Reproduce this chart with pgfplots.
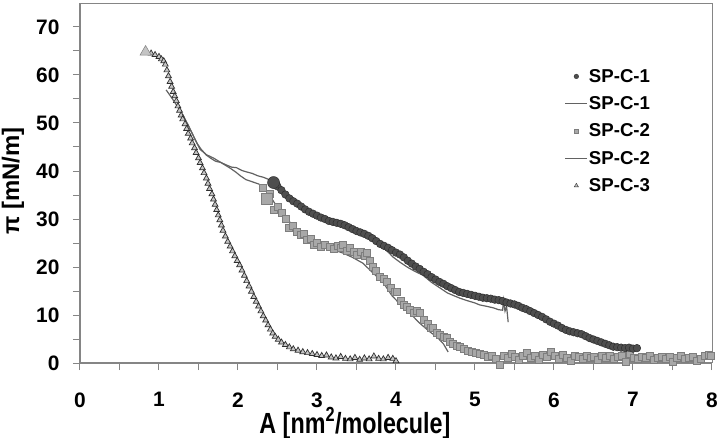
\documentclass[border=0pt]{standalone}
\usepackage{pgfplots}
\pgfplotsset{compat=1.18}
\usepackage{fontspec}
\setmainfont{Liberation Sans}
\definecolor{cfill}{HTML}{4E4E4E}
\definecolor{cedge}{HTML}{2E2E2E}
\definecolor{sfill}{HTML}{A8A8A8}
\definecolor{sedge}{HTML}{7E7E7E}
\definecolor{tfill}{HTML}{C4C4C4}
\definecolor{tedge}{HTML}{2E2E2E}
\definecolor{lcol}{HTML}{626262}
\definecolor{axcol}{HTML}{858585}
\begin{document}
\begin{tikzpicture}
\begin{axis}[
  scale only axis, width=632bp, height=360bp,
  xmin=0, xmax=8, ymin=0, ymax=75,
  axis lines=left,
  axis line style={-, axcol, line width=1.4bp},
  xtick={0,1,...,8}, ytick={0,10,...,70},
  minor x tick num=1, minor y tick num=1,
  tick align=outside, major tick length=7bp, minor tick length=7bp,
  tick style={axcol, line width=1bp},
  /pgf/number format/assume math mode=true,
  tick label style={font=\bfseries\fontsize{21}{22}\selectfont},
  xticklabel style={yshift=-19bp},
  yticklabel style={xshift=-10bp},
  xlabel={A [nm\textsuperscript{2}/molecule]},
  ylabel={π [mN/m]},
  xlabel style={font=\bfseries\fontsize{23.4}{25}\selectfont, at={(axis description cs:0.435,0)}, anchor=base, yshift=-70bp, yscale=1.25},
  ylabel style={font=\bfseries\fontsize{24}{26}\selectfont, at={(axis description cs:-0.106,0.506)}, anchor=center},
  clip=false,
  legend cell align=left,
  legend style={draw=none, fill=none, at={(rel axis cs:0.762,0.825)}, anchor=north west,
    font=\bfseries\fontsize{18.7}{20}\selectfont, row sep=10.8bp,
    nodes={inner sep=1bp}},
  legend image code/.code={\draw[mark repeat=2,mark phase=2,#1] plot coordinates {(0bp,0bp) (11bp,0bp) (22bp,0bp)};},
]
\draw[axcol, line width=0.8bp] (rel axis cs:0,1) -- (rel axis cs:1,1) -- (rel axis cs:1,0);
% SP-C-3 triangles
\addplot[forget plot, only marks, mark=triangle*, mark size=3.4bp, mark options={fill=tfill, draw=tedge, line width=0.7bp}] coordinates {
(0.90,64.5)(0.95,64.2)(1.00,63.8)(1.03,63.3)(1.06,62.9)(1.08,62.2)(1.10,61.0)(1.12,59.8)(1.14,58.6)(1.16,57.6)(1.18,56.5)(1.20,55.6)(1.22,54.6)(1.24,53.5)(1.26,52.6)(1.28,51.6)(1.30,50.8)(1.33,49.8)(1.35,48.8)(1.37,47.8)(1.40,46.8)(1.42,45.8)(1.45,44.8)(1.47,43.8)(1.50,42.7)(1.52,41.7)(1.55,40.6)(1.57,39.6)(1.60,38.5)(1.62,37.4)(1.64,36.3)(1.67,35.2)(1.69,34.1)(1.71,33.0)(1.73,31.9)(1.75,30.8)(1.77,29.8)(1.79,28.7)(1.81,27.6)(1.84,26.4)(1.87,25.3)(1.90,24.3)(1.93,23.3)(1.96,22.3)(1.99,21.3)(2.02,20.4)(2.05,19.3)(2.08,18.2)(2.11,17.1)(2.14,16.0)(2.17,14.9)(2.20,13.8)(2.23,12.8)(2.26,11.8)(2.29,10.8)(2.32,9.8)(2.35,8.9)(2.38,7.9)(2.41,7.0)(2.44,6.2)(2.47,5.5)(2.51,4.9)(2.55,4.3)(2.60,3.8)(2.65,3.3)(2.70,2.9)(2.76,2.6)(2.82,2.3)(2.88,2.1)(2.94,1.9)(3.00,1.7)(3.06,1.5)(3.12,1.6)(3.18,1.2)(3.24,1.0)(3.30,1.3)(3.36,0.9)(3.42,0.8)(3.48,1.1)(3.54,0.7)(3.60,1.0)(3.66,0.8)(3.72,1.4)(3.78,0.9)(3.84,0.8)(3.90,1.1)(3.96,0.9)(4.00,0.4)
};
\addplot[forget plot, only marks, mark=triangle*, mark size=6.5bp, mark options={fill=tfill, draw=tedge!60, line width=0.5bp}] coordinates {(0.83,64.8)};
% SP-C-1 line
\addplot[forget plot, lcol, line width=1.2bp] coordinates {
(1.09,56.9)(1.15,55.5)(1.20,54.3)(1.25,53.0)(1.31,51.3)(1.37,49.5)(1.43,47.5)(1.48,45.8)(1.53,44.6)(1.60,43.3)(1.66,42.6)(1.72,42.0)(1.78,41.8)(1.86,41.2)(1.92,40.8)(1.98,40.7)(2.05,40.1)(2.11,39.8)(2.18,39.5)(2.25,39.0)(2.32,38.7)(2.38,38.3)(2.45,37.6)(2.55,35.8)(2.65,34.2)(2.75,33.0)(2.85,31.8)(2.95,30.9)(3.05,30.1)(3.15,29.4)(3.25,28.9)(3.35,28.3)(3.45,27.6)(3.55,26.9)(3.65,26.1)(3.75,25.0)(3.85,23.9)(3.92,22.8)(3.96,22.1)(4.05,21.0)(4.15,19.9)(4.25,19.0)(4.34,18.3)(4.45,16.8)(4.56,15.6)(4.65,14.6)(4.75,13.9)(4.81,13.5)(4.90,13.0)(5.00,12.5)(5.06,12.1)(5.15,11.8)(5.23,11.5)(5.30,11.1)(5.35,11.0)(5.36,13.0)(5.38,10.8)(5.40,11.8)(5.42,8.5)
};
% SP-C-2 line
\addplot[forget plot, lcol, line width=1.2bp] coordinates {
(1.30,51.8)(1.38,49.2)(1.45,46.8)(1.52,44.5)(1.60,43.4)(1.69,42.7)(1.78,41.8)(1.90,40.6)(1.97,39.8)(2.03,39.0)(2.10,38.2)(2.19,37.7)(2.26,37.3)(2.32,36.8)(2.40,35.0)(2.46,33.4)(2.53,31.9)(2.60,30.3)(2.68,29.0)(2.75,27.7)(2.85,26.2)(2.95,25.0)(3.08,24.2)(3.20,23.6)(3.33,22.9)(3.45,22.0)(3.58,20.8)(3.70,18.9)(3.84,16.7)(3.95,14.0)(4.05,12.3)(4.18,10.3)(4.30,8.3)(4.42,6.6)(4.52,5.4)(4.60,4.0)(4.66,2.3)
};
% SP-C-2 squares
\addplot[forget plot, only marks, mark=square*, mark size=3.5bp, mark options={fill=sfill, draw=sedge, line width=0.6bp}] coordinates {
(2.32,36.4)(2.40,35.2)(2.45,31.9)(2.50,32.5)(2.56,31.2)(2.60,30.0)(2.64,28.1)(2.69,28.5)(2.74,27.3)(2.79,26.8)(2.83,27.0)(2.87,25.6)(2.92,25.9)(2.96,24.6)(3.00,25.0)(3.05,24.2)(3.10,24.6)(3.16,24.2)(3.21,23.7)(3.26,24.5)(3.30,23.9)(3.33,24.6)(3.38,23.4)(3.42,23.9)(3.46,23.1)(3.51,22.5)(3.56,23.2)(3.60,22.3)(3.63,22.9)(3.67,21.3)(3.71,20.0)(3.75,19.2)(3.80,18.0)(3.84,17.6)(3.88,16.9)(3.93,15.6)(3.98,14.8)(4.01,14.8)(4.06,13.0)(4.10,12.2)(4.14,11.7)(4.18,11.0)(4.22,10.4)(4.26,10.8)(4.30,10.4)(4.35,8.9)(4.40,8.2)(4.44,7.3)(4.47,7.3)(4.52,6.3)(4.56,5.8)(4.60,5.5)(4.64,5.2)(4.68,4.4)(4.72,4.0)(4.77,3.6)(4.81,3.4)(4.86,2.9)(4.91,2.6)(4.96,2.3)(5.01,2.2)(5.06,2.0)
(5.11,1.8)(5.16,1.2)(5.21,1.6)(5.26,0.9)(5.31,-0.3)(5.36,1.5)(5.41,1.0)(5.46,1.9)(5.51,1.3)(5.56,0.7)(5.61,1.6)(5.66,2.1)(5.71,1.0)(5.76,1.5)(5.81,0.6)(5.86,1.8)(5.91,1.2)(5.96,2.3)(6.01,1.4)(6.06,0.8)(6.11,1.7)(6.16,1.1)(6.21,0.5)(6.26,1.6)(6.31,1.2)(6.36,0.9)(6.41,1.5)(6.46,1.0)(6.51,1.3)(6.56,0.7)(6.61,1.4)(6.66,1.0)(6.71,1.6)(6.76,0.8)(6.81,1.2)(6.86,1.5)(6.91,0.3)(6.96,1.9)(7.01,1.1)(7.06,0.9)(7.11,1.3)(7.16,1.0)(7.21,1.5)(7.26,0.6)(7.31,1.1)(7.36,1.3)(7.41,0.8)(7.46,1.2)(7.51,0.2)(7.56,1.1)(7.61,1.4)(7.66,0.9)(7.71,1.0)(7.76,1.2)(7.81,0.4)(7.86,0.9)(7.91,1.6)(7.96,1.7)(7.99,1.6)
};
\addplot[forget plot, only marks, mark=square*, mark size=5.5bp, mark options={fill=sfill, draw=sedge, line width=0.6bp}] coordinates {(2.37,34.3)};
% SP-C-1 circles
\addplot[forget plot, only marks, mark=*, mark size=3.8bp, mark options={fill=cfill, draw=cedge, line width=0.5bp}] coordinates {
(2.50,36.8)(2.55,36.0)(2.60,35.1)(2.65,34.3)(2.70,33.7)(2.75,33.2)(2.80,32.6)(2.85,32.0)(2.90,31.5)(2.95,31.1)(3.00,30.7)(3.05,30.3)(3.10,30.0)(3.15,29.6)(3.20,29.4)(3.25,29.2)(3.30,29.0)(3.35,28.7)(3.40,28.3)(3.45,27.9)(3.50,27.5)(3.55,27.2)(3.60,26.9)(3.65,26.5)(3.70,26.0)(3.75,25.4)(3.80,24.8)(3.85,24.4)(3.90,24.0)(3.95,23.5)(4.00,23.0)(4.05,22.6)(4.10,22.0)(4.15,21.3)(4.20,20.7)(4.25,20.1)(4.30,19.6)(4.35,19.0)(4.40,18.5)(4.45,17.9)(4.50,17.4)(4.55,16.9)(4.60,16.5)(4.65,16.0)(4.70,15.6)(4.75,15.2)(4.80,14.8)(4.85,14.6)(4.90,14.4)(4.95,14.2)(5.00,14.0)(5.05,13.8)(5.10,13.6)(5.15,13.5)(5.20,13.4)(5.25,13.2)(5.30,13.1)(5.35,12.9)(5.40,12.6)(5.45,12.4)(5.50,12.2)(5.55,11.9)(5.60,11.5)(5.65,11.2)(5.70,10.8)(5.75,10.4)(5.80,10.0)(5.85,9.6)(5.90,9.1)(5.95,8.6)(6.00,8.2)(6.05,7.8)(6.10,7.3)(6.15,6.9)(6.20,6.6)(6.25,6.4)(6.30,6.2)(6.35,6.0)(6.40,5.6)(6.45,5.2)(6.50,4.9)(6.55,4.6)(6.60,4.3)(6.65,4.0)(6.70,3.7)(6.75,3.4)(6.80,3.3)(6.85,3.2)(6.90,3.1)(6.95,3.2)(7.00,3.0)(7.05,3.1)
};
\addplot[forget plot, only marks, mark=*, mark size=6bp, mark options={fill=cfill, draw=cedge, line width=0.5bp}] coordinates {(2.45,37.6)};
% legend
\addlegendimage{only marks, mark=*, mark size=2.3bp, mark options={fill=cfill, draw=cedge, line width=0.4bp}}
\addlegendentry{SP-C-1}
\addlegendimage{lcol, line width=1.2bp}
\addlegendentry{SP-C-1}
\addlegendimage{only marks, mark=square*, mark size=2.2bp, mark options={fill=sfill, draw=sedge, line width=0.4bp}}
\addlegendentry{SP-C-2}
\addlegendimage{lcol, line width=1.2bp}
\addlegendentry{SP-C-2}
\addlegendimage{only marks, mark=triangle*, mark size=2.4bp, mark options={fill=tfill, draw=tedge, line width=0.4bp}}
\addlegendentry{SP-C-3}
\coordinate (O) at (rel axis cs:0,0);
\end{axis}
\pgfresetboundingbox
\path[use as bounding box] (O) ++(-80bp,-75bp) rectangle ++(720bp,438bp);
\end{tikzpicture}
\end{document}
